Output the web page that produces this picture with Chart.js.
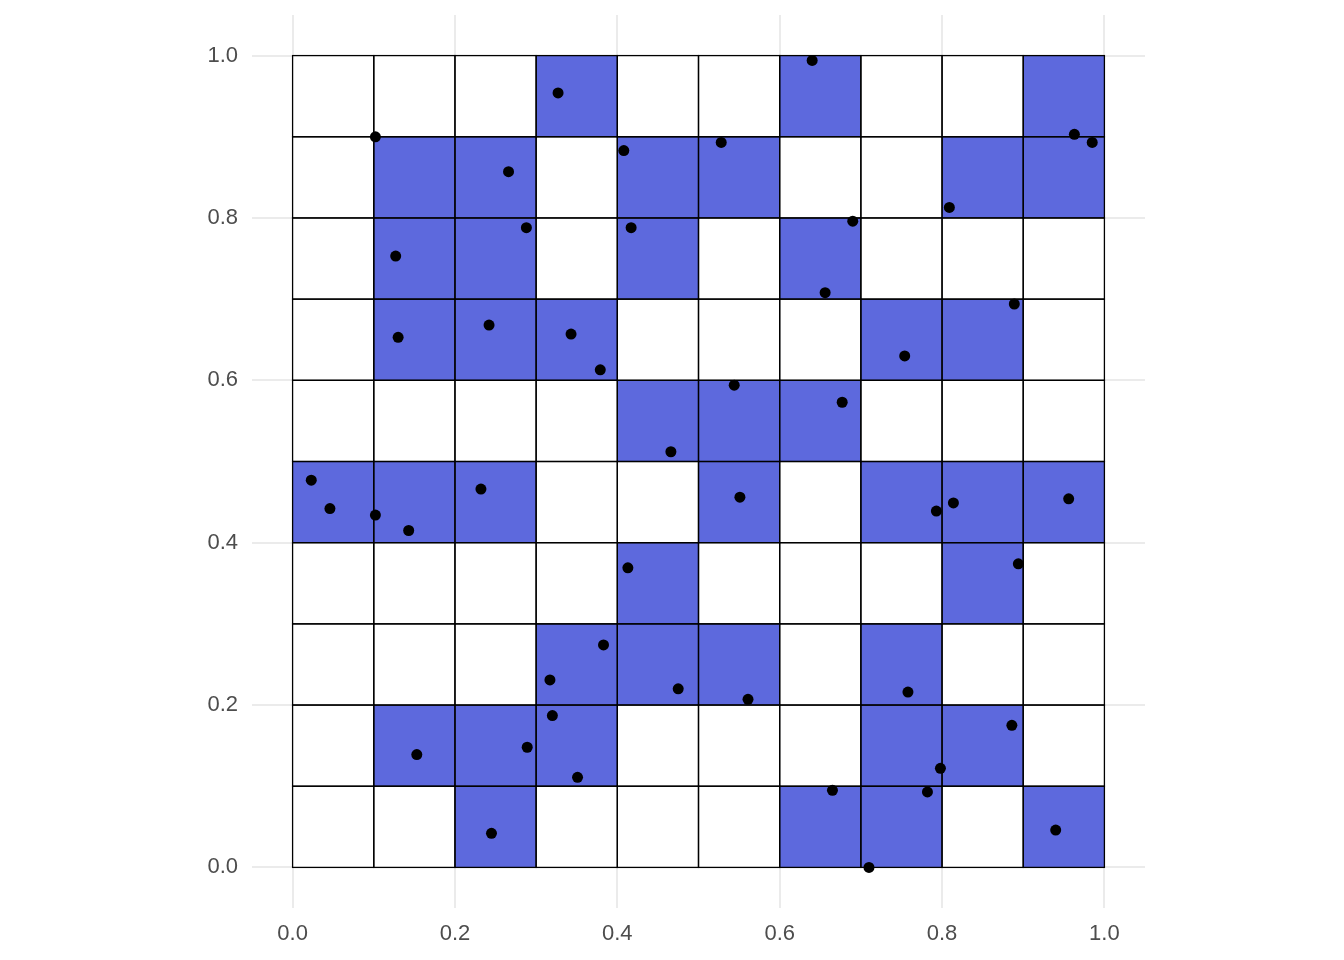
<!DOCTYPE html>
<html>
<head>
<meta charset="utf-8">
<script src="https://cdn.jsdelivr.net/npm/chart.js@4"></script>
<style>
  html, body { margin: 0; padding: 0; background: #ffffff; }
  #wrap { width: 1344px; height: 960px; }
</style>
</head>
<body>
<div id="wrap"><canvas id="chart"></canvas></div>
<script>
// scatter points
const pointX = [0.327, 0.640, 0.102, 0.266, 0.408, 0.528, 0.963, 0.985, 0.127, 0.288,
                0.417, 0.690, 0.809, 0.656, 0.130, 0.242, 0.343, 0.379, 0.754, 0.889,
                0.544, 0.677, 0.466, 0.023, 0.046, 0.102, 0.143, 0.232, 0.551, 0.793,
                0.814, 0.956, 0.413, 0.894, 0.383, 0.317, 0.475, 0.561, 0.758, 0.320,
                0.153, 0.289, 0.351, 0.886, 0.798, 0.665, 0.782, 0.710, 0.245, 0.940];
const pointY = [0.954, 0.994, 0.900, 0.857, 0.883, 0.893, 0.903, 0.893, 0.753, 0.788,
                0.788, 0.796, 0.813, 0.708, 0.653, 0.668, 0.657, 0.613, 0.630, 0.694,
                0.594, 0.573, 0.512, 0.477, 0.442, 0.434, 0.415, 0.466, 0.456, 0.439,
                0.449, 0.454, 0.369, 0.374, 0.274, 0.231, 0.220, 0.207, 0.216, 0.187,
                0.139, 0.148, 0.111, 0.175, 0.122, 0.095, 0.093, 0.000, 0.042, 0.046];

// cell edges and which cells are filled (rows listed top to bottom)
const cellBreaks = [0.0, 0.1, 0.2, 0.3, 0.4, 0.5, 0.6, 0.7, 0.8, 0.9, 1.0];
const cellFill = [
  [0, 0, 0, 1, 0, 0, 1, 0, 0, 1],
  [0, 1, 1, 0, 1, 1, 0, 0, 1, 1],
  [0, 1, 1, 0, 1, 0, 1, 0, 0, 0],
  [0, 1, 1, 1, 0, 0, 0, 1, 1, 0],
  [0, 0, 0, 0, 1, 1, 1, 0, 0, 0],
  [1, 1, 1, 0, 0, 1, 0, 1, 1, 1],
  [0, 0, 0, 0, 1, 0, 0, 0, 1, 0],
  [0, 0, 0, 1, 1, 1, 0, 1, 0, 0],
  [0, 1, 1, 1, 0, 0, 0, 1, 1, 0],
  [0, 0, 1, 0, 0, 0, 1, 1, 0, 1]
];

const xTicks = [0.0, 0.2, 0.4, 0.6, 0.8, 1.0];
const yTicks = [0.0, 0.2, 0.4, 0.6, 0.8, 1.0];

// draws the tiles under the points
const cellsPlugin = {
    id: 'cells',
    beforeDatasetsDraw(chart) {
        const ctx = chart.ctx;
        const xs = chart.scales.x;
        const ys = chart.scales.y;
        const n = cellBreaks.length - 1;
        const rects = [];
        for (let r = 0; r < n; r++) {
            for (let c = 0; c < n; c++) {
                const y0 = cellBreaks[n - 1 - r];
                const y1 = cellBreaks[n - r];
                const px0 = xs.getPixelForValue(cellBreaks[c]);
                const px1 = xs.getPixelForValue(cellBreaks[c + 1]);
                const py0 = ys.getPixelForValue(y1);
                const py1 = ys.getPixelForValue(y0);
                rects.push([px0, py0, px1 - px0, py1 - py0, cellFill[r][c]]);
            }
        }
        ctx.save();
        rects.forEach(([x, y, w, h, f]) => {
            ctx.fillStyle = f ? '#5D69DD' : '#ffffff';
            ctx.fillRect(x, y, w, h);
        });
        ctx.strokeStyle = '#000000';
        ctx.lineWidth = 1.3;
        rects.forEach(([x, y, w, h]) => {
            ctx.strokeRect(x, y, w, h);
        });
        ctx.restore();
    }
};

const tickFont = { family: '"Liberation Sans", Arial, sans-serif', size: 22 };

new Chart(document.getElementById('chart'), {
    type: 'scatter',
    data: {
        datasets: [{
            data: pointX.map((x, i) => ({ x: x, y: pointY[i] })),
            backgroundColor: '#000000',
            borderWidth: 0,
            pointRadius: 5.5,
            pointHoverRadius: 5.5
        }]
    },
    options: {
        responsive: true,
        maintainAspectRatio: false,
        animation: false,
        layout: { padding: { left: 200, right: 199, top: 15, bottom: 0 } },
        plugins: {
            legend: { display: false },
            tooltip: { enabled: false }
        },
        scales: {
            x: {
                type: 'linear',
                min: -0.05,
                max: 1.05,
                afterBuildTicks: (scale) => { scale.ticks = xTicks.map(v => ({ value: v })); },
                afterFit: (scale) => {
                    scale.height = 52;
                    scale.paddingLeft = 0;
                    scale.paddingRight = 0;
                },
                grid: { color: '#EBEBEB', lineWidth: 2, drawTicks: false },
                border: { display: false },
                ticks: {
                    padding: 13,
                    color: '#4D4D4D',
                    font: tickFont,
                    maxRotation: 0,
                    callback: (v) => Number(v).toFixed(1)
                }
            },
            y: {
                type: 'linear',
                min: -0.05,
                max: 1.05,
                afterBuildTicks: (scale) => { scale.ticks = yTicks.map(v => ({ value: v })); },
                afterFit: (scale) => {
                    scale.width = 52;
                    scale.paddingTop = 0;
                    scale.paddingBottom = 0;
                },
                grid: { color: '#EBEBEB', lineWidth: 2, drawTicks: false },
                border: { display: false },
                ticks: {
                    padding: 14,
                    color: '#4D4D4D',
                    font: tickFont,
                    callback: (v) => Number(v).toFixed(1)
                }
            }
        }
    },
    plugins: [cellsPlugin]
});
</script>
</body>
</html>
